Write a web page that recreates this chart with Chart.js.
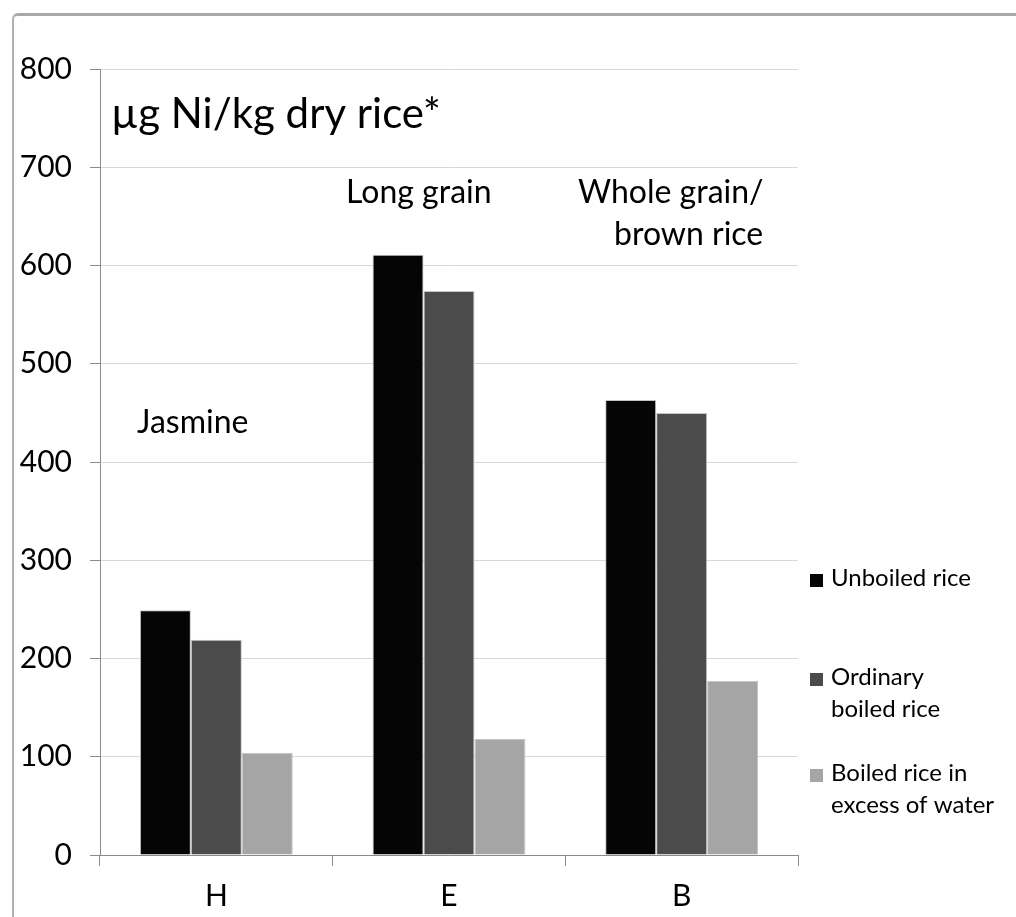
<!DOCTYPE html>
<html lang="en">
<head>
<meta charset="UTF-8">
<title>Ni in rice</title>
<script src="https://cdn.jsdelivr.net/npm/chart.js"></script>
<style>
    html, body { margin: 0; padding: 0; background: #fff; }
    .wrap { position: relative; width: 1016px; height: 917px; overflow: hidden; }
    /* the window frame visible in the screenshot */
    .frame {
        position: absolute; left: 12px; top: 13px; right: -10px; bottom: -10px;
        border-top: 3px solid #a9a9a9; border-left: 2px solid #b0b0b0;
        border-top-left-radius: 6px; pointer-events: none;
    }
    canvas { position: absolute; left: 0; top: 0; }
</style>
</head>
<body>
<div class="wrap">
    <canvas id="c" width="1016" height="917"></canvas>
    <div class="frame"></div>
</div>
<script>
// data
const categories = ['H', 'E', 'B'];
const unboiled = [249, 611, 463];
const ordinary = [219, 574, 450];
const excessWater = [104, 118, 177];
const yTicks = [0, 100, 200, 300, 400, 500, 600, 700, 800];

const seriesNames = ['Unboiled rice', 'Ordinary boiled rice', 'Boiled rice in excess of water'];
const legendLines = [['Unboiled rice'], ['Ordinary', 'boiled rice'], ['Boiled rice in', 'excess of water']];
const colors = ['#050505', '#4a4b4a', '#a5a5a5'];

const FONT = 'Lato, "Open Sans", sans-serif';

// free text labels drawn inside the plot
const notes = {
    id: 'notes',
    afterDraw(chart) {
        const ctx = chart.ctx;
        ctx.save();
        ctx.fillStyle = '#000';
        ctx.textAlign = 'left';
        ctx.textBaseline = 'alphabetic';
        ctx.font = '42px ' + FONT;
        ctx.fillText('\u00b5g Ni/kg dry rice*', 111, 128);
        ctx.font = '32px ' + FONT;
        ctx.fillText('Jasmine', 137, 433);
        ctx.fillText('Long grain', 346, 203);
        ctx.fillText('Whole grain/', 578, 203);
        ctx.fillText('brown rice', 614, 245);

        // legend on the right
        const tops = [586, 685, 781];
        ctx.font = '24px ' + FONT;
        legendLines.forEach((lines, i) => {
            ctx.fillStyle = colors[i];
            ctx.fillRect(810, tops[i] - 12, 13, 13);
            ctx.fillStyle = '#000';
            lines.forEach((t, j) => ctx.fillText(t, 831, tops[i] + j * 32));
        });
        ctx.restore();
    }
};

new Chart(document.getElementById('c'), {
    type: 'bar',
    data: {
        labels: categories,
        datasets: [unboiled, ordinary, excessWater].map((d, i) => ({
            label: seriesNames[i],
            data: d,
            backgroundColor: colors[i],
            borderColor: '#c4c4c4',
            borderWidth: 1,
            categoryPercentage: 0.657,
            barPercentage: 1.0
        }))
    },
    options: {
        responsive: false,
        animation: false,
        layout: { padding: { left: 0, right: 218, top: 69, bottom: 0 } },
        plugins: { legend: { display: false }, tooltip: { enabled: false } },
        scales: {
            y: {
                min: 0, max: 800,
                afterFit(scale) { scale.width = 100; },
                afterBuildTicks(scale) { scale.ticks = yTicks.map(v => ({ value: v })); },
                grid: { color: '#d9d9d9', tickColor: '#8a8a8a', tickLength: 10, lineWidth: 1 },
                border: { color: '#8a8a8a', width: 1 },
                ticks: {
                    color: '#000', padding: 18,
                    font: { family: FONT, size: 30 }
                }
            },
            x: {
                afterFit(scale) { scale.height = 62; },
                grid: { drawOnChartArea: false, offset: true, tickColor: '#8a8a8a', tickLength: 11 },
                border: { color: '#8a8a8a', width: 1 },
                ticks: {
                    color: '#000', padding: 12,
                    font: { family: FONT, size: 30 }
                }
            }
        }
    },
    plugins: [notes]
});
</script>
</body>
</html>
